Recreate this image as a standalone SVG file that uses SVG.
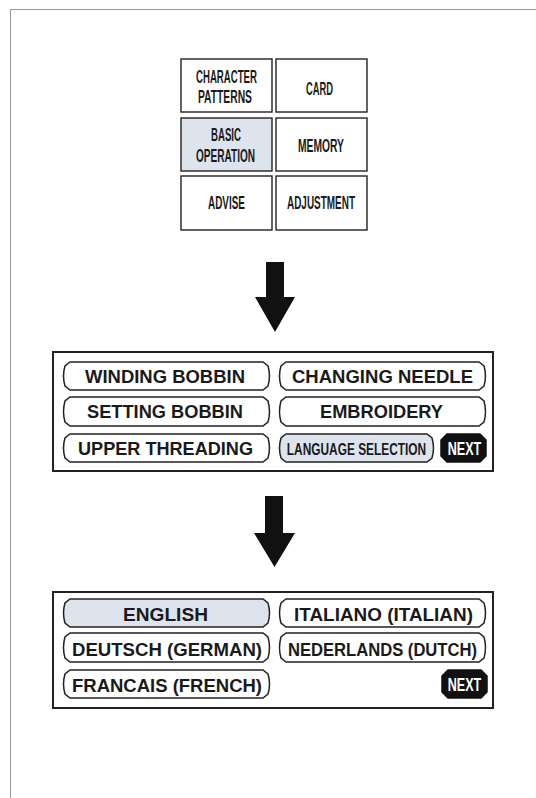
<svg xmlns="http://www.w3.org/2000/svg" width="536" height="798" viewBox="0 0 536 798">
<defs>
<style>
.frame{fill:none;stroke:#9a9a9a;stroke-width:1}
.cell{fill:#fff;stroke:#222;stroke-width:1.4}
.panel{fill:#fff;stroke:#222;stroke-width:2}
.btn{fill:#fff;stroke:#222;stroke-width:1.5}
.sel{fill:#dde4ee}
.next{fill:#111;stroke:#111;stroke-width:1.5}
.cond{font-family:"Liberation Sans",Arial,sans-serif;font-size:18px;font-weight:bold;fill:#1a1a1a;text-anchor:middle}
.small{font-size:17px}
.bold{font-family:"Liberation Sans",Arial,sans-serif;font-size:18px;font-weight:bold;fill:#1a1a1a;text-anchor:middle}
.ntxt{font-family:"Liberation Sans",Arial,sans-serif;font-size:18px;font-weight:bold;fill:#fff;text-anchor:middle}
.arrow{fill:#111}
</style>
</defs>
<rect width="536" height="798" fill="#fff"/>
<path class="frame" d="M10.5,798 V9.5 H536"/>

<g id="menu-grid">
<g id="cell-character-patterns"><rect class="cell" x="181" y="59" width="91" height="53"/>
<text class="cond" x="226.5" y="83" textLength="61" lengthAdjust="spacingAndGlyphs">CHARACTER</text>
<text class="cond" x="225" y="103" textLength="54" lengthAdjust="spacingAndGlyphs">PATTERNS</text></g>
<g id="cell-card"><rect class="cell" x="276" y="59" width="91" height="53"/>
<text class="cond" x="319.5" y="95" textLength="27" lengthAdjust="spacingAndGlyphs">CARD</text></g>
<g id="cell-basic-operation"><rect class="cell sel" x="181" y="118" width="91" height="53"/>
<text class="cond" x="226" y="141" textLength="30" lengthAdjust="spacingAndGlyphs">BASIC</text>
<text class="cond" x="225.5" y="162" textLength="59" lengthAdjust="spacingAndGlyphs">OPERATION</text></g>
<g id="cell-memory"><rect class="cell" x="276" y="118" width="91" height="53"/>
<text class="cond" x="321" y="152" textLength="46" lengthAdjust="spacingAndGlyphs">MEMORY</text></g>
<g id="cell-advise"><rect class="cell" x="181" y="176" width="91" height="54"/>
<text class="cond" x="226.5" y="209" textLength="37" lengthAdjust="spacingAndGlyphs">ADVISE</text></g>
<g id="cell-adjustment"><rect class="cell" x="276" y="176" width="91" height="54"/>
<text class="cond" x="321" y="209" textLength="68" lengthAdjust="spacingAndGlyphs">ADJUSTMENT</text></g>
</g>

<g id="connectors">
<path class="arrow" d="M266,262 H284 V297 H295 L275,332 L255,297 H266 Z"/>
<path class="arrow" d="M265,496 H283 V533 H295 L274.5,567 L254,533 H265 Z"/>
</g>

<g id="basic-operation-screen">
<rect class="panel" x="53" y="352" width="440" height="119"/>
<g id="btn-winding-bobbin"><path class="btn" d="M70,362 H263 L268,366 Q271,376 268,386 L263,390 H70 L65,386 Q62,376 65,366 Z"/>
<text class="bold" x="165" y="383" textLength="160" lengthAdjust="spacingAndGlyphs">WINDING BOBBIN</text></g>
<g id="btn-changing-needle"><path class="btn" d="M286,362 H479 L484,366 Q487,376 484,386 L479,390 H286 L281,386 Q278,376 281,366 Z"/>
<text class="bold" x="382.5" y="383" textLength="181" lengthAdjust="spacingAndGlyphs">CHANGING NEEDLE</text></g>
<g id="btn-setting-bobbin"><path class="btn" d="M70,397 H263 L268,401 Q271,411.5 268,422 L263,426 H70 L65,422 Q62,411.5 65,401 Z"/>
<text class="bold" x="165" y="418" textLength="156" lengthAdjust="spacingAndGlyphs">SETTING BOBBIN</text></g>
<g id="btn-embroidery"><path class="btn" d="M286,397 H479 L484,401 Q487,411.5 484,422 L479,426 H286 L281,422 Q278,411.5 281,401 Z"/>
<text class="bold" x="381.5" y="418" textLength="123" lengthAdjust="spacingAndGlyphs">EMBROIDERY</text></g>
<g id="btn-upper-threading"><path class="btn" d="M70,434 H263 L268,438 Q271,448 268,458 L263,462 H70 L65,458 Q62,448 65,438 Z"/>
<text class="bold" x="165.5" y="455" textLength="175" lengthAdjust="spacingAndGlyphs">UPPER THREADING</text></g>
<g id="btn-language-selection"><path class="btn sel" d="M286,434 H427 L432,438 Q435,448 432,458 L427,462 H286 L281,458 Q278,448 281,438 Z"/>
<text class="cond small" transform="translate(356.5,455) scale(0.7,1)" x="0" y="0">LANGUAGE SELECTION</text></g>
<g id="btn-next-1"><path class="next" d="M447,434 H480 L486,440 V456 L480,462 H447 L441,456 V440 Z"/>
<text class="ntxt" transform="translate(464.5,455) scale(0.7,1)" x="0" y="0">NEXT</text></g>
</g>

<g id="language-screen">
<rect class="panel" x="53" y="592" width="440" height="116"/>
<g id="btn-english"><path class="btn sel" d="M70,599 H263 L268,603 Q271,613 268,623 L263,627 H70 L65,623 Q62,613 65,603 Z"/>
<text class="bold" x="165.5" y="621" textLength="85" lengthAdjust="spacingAndGlyphs">ENGLISH</text></g>
<g id="btn-italiano"><path class="btn" d="M286,599 H479 L484,603 Q487,613 484,623 L479,627 H286 L281,623 Q278,613 281,603 Z"/>
<text class="bold" x="383.5" y="621" textLength="179" lengthAdjust="spacingAndGlyphs">ITALIANO (ITALIAN)</text></g>
<g id="btn-deutsch"><path class="btn" d="M70,633 H263 L268,637 Q271,647.5 268,658 L263,662 H70 L65,658 Q62,647.5 65,637 Z"/>
<text class="bold" x="167" y="656" textLength="190" lengthAdjust="spacingAndGlyphs">DEUTSCH (GERMAN)</text></g>
<g id="btn-nederlands"><path class="btn" d="M286,633 H479 L484,637 Q487,647.5 484,658 L479,662 H286 L281,658 Q278,647.5 281,637 Z"/>
<text class="bold" x="382.5" y="656" textLength="189" lengthAdjust="spacingAndGlyphs">NEDERLANDS (DUTCH)</text></g>
<g id="btn-francais"><path class="btn" d="M70,670 H263 L268,674 Q271,684 268,694 L263,698 H70 L65,694 Q62,684 65,674 Z"/>
<text class="bold" x="167" y="692" textLength="190" lengthAdjust="spacingAndGlyphs">FRANCAIS (FRENCH)</text></g>
<g id="btn-next-2"><path class="next" d="M448,670 H481 L487,676 V692 L481,698 H448 L442,692 V676 Z"/>
<text class="ntxt" transform="translate(464.5,691) scale(0.7,1)" x="0" y="0">NEXT</text></g>
</g>
</svg>
